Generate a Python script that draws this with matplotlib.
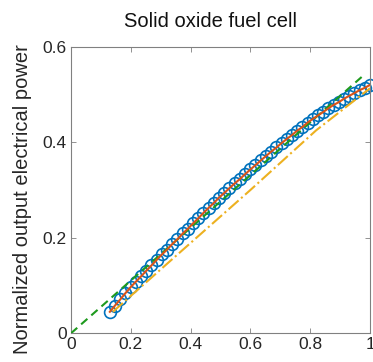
import matplotlib
matplotlib.use('Agg')
import matplotlib.pyplot as plt

plt.rcParams['font.family'] = ['Liberation Sans', 'DejaVu Sans']

# measured (circles) and fitted curve
x_meas = [0.130, 0.147, 0.165, 0.182, 0.200, 0.217, 0.234, 0.252, 0.269, 0.287,
          0.304, 0.321, 0.339, 0.356, 0.374, 0.391, 0.408, 0.426, 0.443, 0.461,
          0.478, 0.495, 0.513, 0.530, 0.548, 0.565, 0.582, 0.600, 0.617, 0.635,
          0.652, 0.669, 0.687, 0.704, 0.722, 0.739, 0.756, 0.774, 0.791, 0.809,
          0.826, 0.843, 0.861, 0.878, 0.896, 0.913, 0.930, 0.948, 0.965, 0.983,
          1.000]
y_meas = [0.045, 0.058, 0.071, 0.084, 0.097, 0.108, 0.119, 0.131, 0.142, 0.154,
          0.165, 0.175, 0.187, 0.197, 0.209, 0.219, 0.230, 0.241, 0.252, 0.263,
          0.273, 0.284, 0.294, 0.304, 0.314, 0.323, 0.333, 0.343, 0.352, 0.362,
          0.371, 0.380, 0.389, 0.398, 0.407, 0.415, 0.424, 0.432, 0.441, 0.449,
          0.456, 0.463, 0.471, 0.478, 0.484, 0.491, 0.497, 0.503, 0.509, 0.514,
          0.520]

# approximations
x_lin = [0.0, 0.98]
y_lin = [0.0, 0.541]
x_alt = [0.14, 0.36, 0.60, 0.82, 1.00]
y_alt = [0.045, 0.167, 0.300, 0.425, 0.513]

fig = plt.figure(figsize=(3.73, 3.62), dpi=100)
ax = fig.add_axes([0.1903, 0.0793, 0.8017, 0.7917])

ax.plot(x_meas, y_meas, 'o', ms=8.5, mfc='none', mec='#0072BD', mew=1.2,
        clip_on=False, zorder=2)
ax.plot(x_lin, y_lin, '--', color='#1E9A1E', lw=1.5, dashes=(4, 2.5), zorder=3)
ax.plot(x_alt, y_alt, '-.', color='#EDB120', lw=1.5, zorder=3)
ax.plot(x_meas, y_meas, '-', color='#D95319', lw=1.5, zorder=4)

ax.set_xlim(0, 1)
ax.set_ylim(0, 0.6)
ax.set_xticks([0, 0.2, 0.4, 0.6, 0.8, 1])
ax.set_xticklabels(['0', '0.2', '0.4', '0.6', '0.8', '1'])
ax.set_yticks([0, 0.2, 0.4, 0.6])
ax.set_yticklabels(['0', '0.2', '0.4', '0.6'])
ax.tick_params(direction='in', top=True, right=True, length=3.5, width=0.6,
               color='#808080', labelsize=12.5, labelcolor='#262626', pad=3)
for s in ax.spines.values():
    s.set_color('#808080')
    s.set_linewidth(0.8)

ax.set_ylabel('Normalized output electrical power', fontsize=14.5, color='#262626')
ax.yaxis.set_label_coords(-0.130, 0.468)
fig.text(210 / 373, 0.925, 'Solid oxide fuel cell', fontsize=14.5, ha='center',
         va='baseline', color='#111111')

fig.savefig('out.png', dpi=100)
